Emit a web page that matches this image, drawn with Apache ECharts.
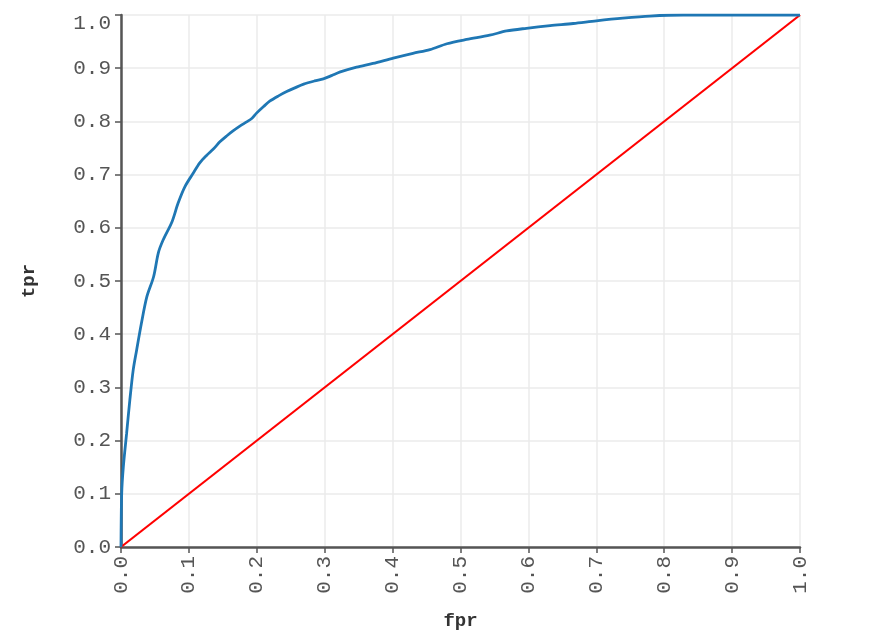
<!DOCTYPE html>
<html>
<head>
<meta charset="utf-8">
<script src="https://cdn.jsdelivr.net/npm/echarts@6/dist/echarts.min.js"></script>
<style>
  html, body { margin: 0; padding: 0; background: #fff; }
  #chart { width: 876px; height: 640px; }
</style>
</head>
<body>
<div id="chart"></div>
<script>
// ROC curve points
const fpr = [0, 0.001, 0.0034, 0.0083, 0.013, 0.018, 0.023, 0.030, 0.038, 0.048,
  0.055, 0.062, 0.075, 0.084, 0.094, 0.106, 0.116, 0.126, 0.136, 0.146,
  0.156, 0.165, 0.175, 0.185, 0.193, 0.200, 0.210, 0.219, 0.232, 0.244,
  0.256, 0.269, 0.285, 0.298, 0.310, 0.323, 0.347, 0.371, 0.401, 0.430,
  0.455, 0.480, 0.509, 0.543, 0.568, 0.597, 0.632, 0.666, 0.700, 0.739,
  0.779, 0.828, 1.0]
const tpr = [0, 0.10, 0.15, 0.214, 0.276, 0.333, 0.37, 0.42, 0.47, 0.508,
  0.553, 0.577, 0.611, 0.646, 0.677, 0.702, 0.722, 0.736, 0.748, 0.762,
  0.773, 0.782, 0.791, 0.799, 0.806, 0.816, 0.828, 0.838, 0.848, 0.856,
  0.863, 0.870, 0.876, 0.880, 0.886, 0.893, 0.902, 0.909, 0.919, 0.928,
  0.935, 0.946, 0.954, 0.962, 0.970, 0.975, 0.980, 0.984, 0.989, 0.994,
  0.998, 1.0, 1.0]
const diagonal = [[0, 0], [1, 1]]

const monoFont = '"Liberation Mono", "DejaVu Sans Mono", monospace'

const axisCommon = {
    type: 'value',
    min: 0,
    max: 1,
    interval: 0.1,
    nameLocation: 'middle',
    nameTextStyle: {
        fontFamily: monoFont,
        fontWeight: 'bold',
        fontSize: 19,
        color: '#333'
    },
    axisLine: { show: true, lineStyle: { color: '#555', width: 2.5 } },
    axisTick: { show: true, length: 6, lineStyle: { color: '#555', width: 1.5 } },
    axisLabel: {
        fontFamily: monoFont,
        fontSize: 21,
        color: '#555',
        formatter: v => v.toFixed(1)
    },
    splitLine: { show: true, lineStyle: { color: '#ebebeb', width: 1.5 } }
}

const option = {
    backgroundColor: '#fff',
    animation: false,
    grid: { left: 121, right: 76, top: 15, bottom: 93 },
    xAxis: {
        ...axisCommon,
        name: 'fpr',
        nameGap: 65,
        axisLabel: { ...axisCommon.axisLabel, rotate: 90, margin: 9 }
    },
    yAxis: {
        ...axisCommon,
        name: 'tpr',
        nameGap: 82,
        axisLabel: {
            ...axisCommon.axisLabel,
            margin: 10,
            // top label sits a bit lower, as in the original
            formatter: v => v === 1 ? '{top|1.0}' : v.toFixed(1),
            rich: { top: { fontFamily: monoFont, fontSize: 21, color: '#555', padding: [16, 0, 0, 0] } }
        }
    },
    series: [{
        name: 'roc',
        type: 'line',
        showSymbol: false,
        smooth: 0.3,
        data: fpr.map((f, i) => [f, tpr[i]]),
        lineStyle: { color: '#1f77b4', width: 2.8 },
        z: 3
    }, {
        name: 'chance',
        type: 'line',
        showSymbol: false,
        data: diagonal,
        lineStyle: { color: '#ff0000', width: 2.2 },
        z: 2
    }]
}

const chart = echarts.init(document.getElementById('chart'))
chart.setOption(option)
</script>
</body>
</html>
